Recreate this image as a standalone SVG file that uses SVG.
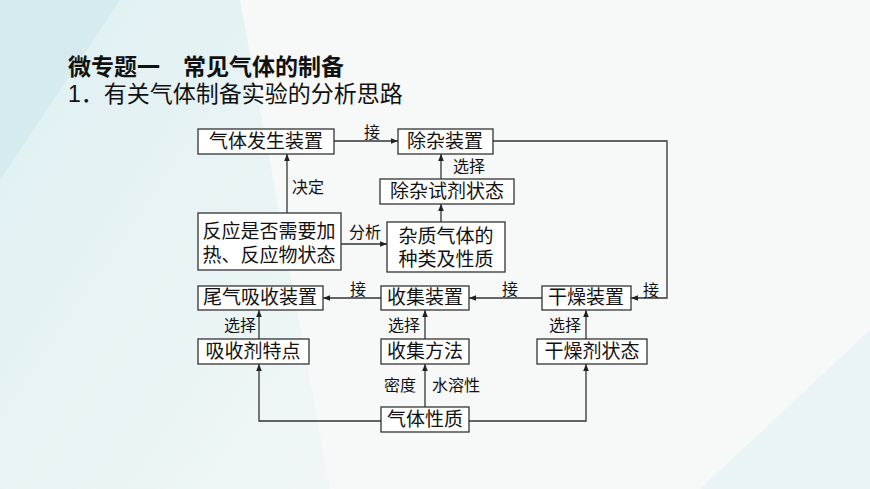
<svg xmlns="http://www.w3.org/2000/svg" width="870" height="489" viewBox="0 0 870 489">
<defs>
<marker id="ar" viewBox="0 0 10 10" refX="10" refY="5" markerWidth="7" markerHeight="7" orient="auto" markerUnits="userSpaceOnUse"><path d="M0,1 L10,5 L0,9 z" fill="#222"/></marker>
<linearGradient id="bg" x1="0" y1="0" x2="1" y2="1"><stop offset="0" stop-color="#d4ecef"/><stop offset="1" stop-color="#eef6f7"/></linearGradient>
</defs>
<style>
.b{fill:#fff;stroke:#333;stroke-width:1.3}
.t{font-family:"Liberation Serif","Noto Sans CJK SC",serif;font-size:19px;fill:#111;text-anchor:middle}
.l{font-family:"Liberation Serif","Noto Sans CJK SC",serif;font-size:16px;fill:#111;text-anchor:middle}
.c{fill:none;stroke:#333;stroke-width:1.3}
.h{font-family:"Liberation Sans","Noto Sans CJK SC",sans-serif;font-size:23px;fill:#111}
</style>
<rect width="870" height="489" fill="#f7f8f8"/>
<polygon points="0,0 240,0 330,489 0,489" fill="url(#bg)" opacity="0.7"/>
<polygon points="0,0 120,0 0,180" fill="#cfe8ec" opacity="0.6"/>
<polygon points="700,489 870,330 870,489" fill="#e4f1f3" opacity="0.7"/>
<text class="h" x="68" y="75" font-weight="bold">微专题一　常见气体的制备</text>
<text class="h" x="68" y="102">1．有关气体制备实验的分析思路</text>
<g id="connectors">
<path class="c" d="M334,141 H398" marker-end="url(#ar)"/>
<path class="c" d="M493,141 H667 V298 H631" marker-end="url(#ar)"/>
<path class="c" d="M441,179 V154" marker-end="url(#ar)"/>
<path class="c" d="M441,222 V204" marker-end="url(#ar)"/>
<path class="c" d="M287,213 V154" marker-end="url(#ar)"/>
<path class="c" d="M341,244 H387" marker-end="url(#ar)"/>
<path class="c" d="M542,298 H469" marker-end="url(#ar)"/>
<path class="c" d="M381,298 H323" marker-end="url(#ar)"/>
<path class="c" d="M259,339 V310" marker-end="url(#ar)"/>
<path class="c" d="M425,339 V310" marker-end="url(#ar)"/>
<path class="c" d="M586,339 V310" marker-end="url(#ar)"/>
<path class="c" d="M425,407 V364" marker-end="url(#ar)"/>
<path class="c" d="M381,421 H259 V364" marker-end="url(#ar)"/>
<path class="c" d="M469,421 H586 V364" marker-end="url(#ar)"/>
<text class="l" x="372" y="138">接</text>
<text class="l" x="651" y="296">接</text>
<text class="l" x="469" y="172">选择</text>
<text class="l" x="308" y="193">决定</text>
<text class="l" x="365" y="238">分析</text>
<text class="l" x="510" y="295">接</text>
<text class="l" x="358" y="295">接</text>
<text class="l" x="240" y="331">选择</text>
<text class="l" x="404" y="331">选择</text>
<text class="l" x="565" y="331">选择</text>
<text class="l" x="400" y="391">密度</text>
<text class="l" x="456" y="391">水溶性</text>
</g>
<g id="n1"><rect class="b" x="198" y="129" width="136" height="25"/><text class="t" x="266" y="148">气体发生装置</text></g>
<g id="n2"><rect class="b" x="398" y="129" width="95" height="25"/><text class="t" x="445" y="148">除杂装置</text></g>
<g id="n3"><rect class="b" x="380" y="179" width="134" height="25"/><text class="t" x="447" y="198">除杂试剂状态</text></g>
<g id="n4"><rect class="b" x="198" y="213" width="143" height="57"/><text class="t" x="269" y="238">反应是否需要加</text><text class="t" x="269" y="262">热、反应物状态</text></g>
<g id="n5"><rect class="b" x="387" y="222" width="118" height="50"/><text class="t" x="446" y="243">杂质气体的</text><text class="t" x="446" y="266">种类及性质</text></g>
<g id="n6"><rect class="b" x="198" y="286" width="125" height="24"/><text class="t" x="260" y="304">尾气吸收装置</text></g>
<g id="n7"><rect class="b" x="381" y="286" width="88" height="24"/><text class="t" x="425" y="304">收集装置</text></g>
<g id="n8"><rect class="b" x="542" y="286" width="89" height="24"/><text class="t" x="586" y="304">干燥装置</text></g>
<g id="n9"><rect class="b" x="198" y="339" width="111" height="25"/><text class="t" x="253" y="358">吸收剂特点</text></g>
<g id="n10"><rect class="b" x="381" y="339" width="88" height="25"/><text class="t" x="425" y="358">收集方法</text></g>
<g id="n11"><rect class="b" x="537" y="339" width="110" height="25"/><text class="t" x="592" y="358">干燥剂状态</text></g>
<g id="n12"><rect class="b" x="381" y="407" width="88" height="25"/><text class="t" x="425" y="426">气体性质</text></g>
</svg>
